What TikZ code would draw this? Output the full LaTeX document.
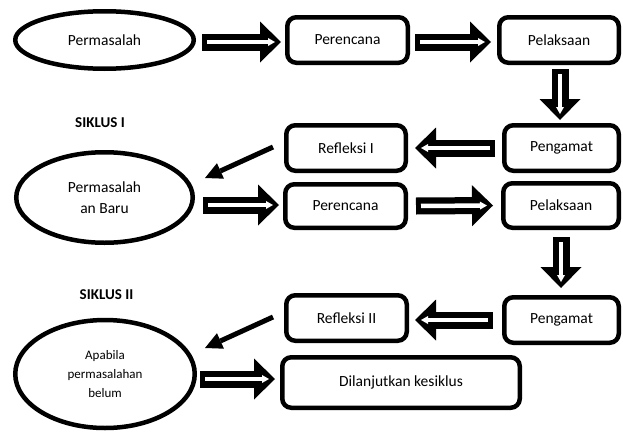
\documentclass[tikz,border=0pt]{standalone}
\usepackage{fontspec}
\setmainfont{Carlito}
\usepackage{tikz}
\usetikzlibrary{positioning,arrows.meta,shapes.geometric}

\tikzset{
  stage/.style={draw, line width=4.5pt, rounded corners=9pt, inner sep=0pt,
    minimum width=119.5pt, minimum height=45.5pt, font=\fontsize{15.5}{18}\selectfont},
  issue/.style={draw, ellipse, line width=4.5pt, inner sep=0pt, align=center,
    font=\fontsize{15.5}{21}\selectfont},
  bigarrow/.style={line width=17pt, -{Triangle[length=21pt,width=41pt,line width=0pt]},
    postaction={draw=white, line width=4.5pt, shorten <=5pt, shorten >=6pt,
      -{Triangle[length=7pt,width=8pt,line width=0pt]}}},
  backarrow/.style={line width=5pt, -{Triangle[length=17pt,width=17pt,line width=0pt]}},
  cycle/.style={font=\bfseries\fontsize{15}{18}\selectfont},
}

\begin{document}
\begin{tikzpicture}[x=1pt, y=-1pt]
        \useasboundingbox (0,0) rectangle (623,431);

        % Siklus I
        \node[issue, minimum width=178.5pt, minimum height=57.5pt] (ell1) at (104.5,40) {Permasalah};
        \node[stage, minimum width=120.5pt] (per1) at (347.5,40) {Perencana};
        \node[stage] (pel1) at (559,40) {Pelaksaan};
        \node[stage, minimum width=114.5pt] (pen1) at (561.5,148) {Pengamat};
        \node[stage] (ref1) at (346,148) {Refleksi I};
        \node[cycle] (sik1) at (100,123) {SIKLUS I};

        \draw[bigarrow] ([xshift=6pt,yshift=-2pt]ell1.east) -- ([xshift=-4pt,yshift=-2pt]per1.west);
        \draw[bigarrow] ([xshift=5pt,yshift=-2pt]per1.east) -- ([xshift=-6pt,yshift=-2pt]pel1.west);
        \draw[bigarrow] ([xshift=1pt,yshift=-4pt]pel1.south) -- ([xshift=-1.5pt,yshift=3pt]pen1.north);
        \draw[bigarrow] ([xshift=-7pt]pen1.west) -- ([xshift=7pt]ref1.east);

        % Siklus II
        \node[issue, minimum width=176.5pt, minimum height=90.5pt] (ell2) at (104.5,197.5) {Permasalah\\an Baru};
        \node[stage, minimum width=120.5pt, minimum height=43.5pt] (per2) at (345.5,206) {Perencana};
        \node[stage, minimum width=115.5pt, minimum height=44.5pt] (pel2) at (561,205.5) {Pelaksaan};
        \node[stage, minimum width=114.5pt] (pen2) at (561.5,320) {Pengamat};
        \node[stage, minimum width=120.5pt] (ref2) at (346.5,318) {Refleksi II};
        \node[cycle] (sik2) at (106.5,295) {SIKLUS II};

        \draw[backarrow] ([xshift=-11pt,yshift=1pt]ref1.west) -- ([xshift=10pt,yshift=19.5pt]ell2.east);
        \draw[bigarrow] ([xshift=8pt,yshift=-7.5pt]ell2.east) -- ([xshift=-4pt,yshift=1pt]per2.west);
        \draw[bigarrow] ([xshift=8pt]per2.east) -- ([xshift=-8pt]pel2.west);
        \draw[bigarrow] ([yshift=-7pt]pel2.south) -- ([xshift=-0.5pt,yshift=7pt]pen2.north);
        \draw[bigarrow] ([xshift=-9pt]pen2.west) -- ([xshift=6pt,yshift=-2pt]ref2.east);

        % Akhir
        \node[issue, minimum width=179.5pt, minimum height=108pt, font=\fontsize{13}{19}\selectfont] (ell3) at (105,374) {Apabila\\permasalahan\\belum};
        \node[stage, minimum width=237.5pt, minimum height=50.5pt] (dil) at (401,382.5) {Dilanjutkan kesiklus};

        \draw[backarrow] ([xshift=-11pt,yshift=1pt]ref2.west) -- ([xshift=8pt,yshift=26pt]ell3.east);
        \draw[bigarrow] ([xshift=3pt,yshift=-5pt]ell3.east) -- ([xshift=-5pt,yshift=3.5pt]dil.west);
\end{tikzpicture}
\end{document}
